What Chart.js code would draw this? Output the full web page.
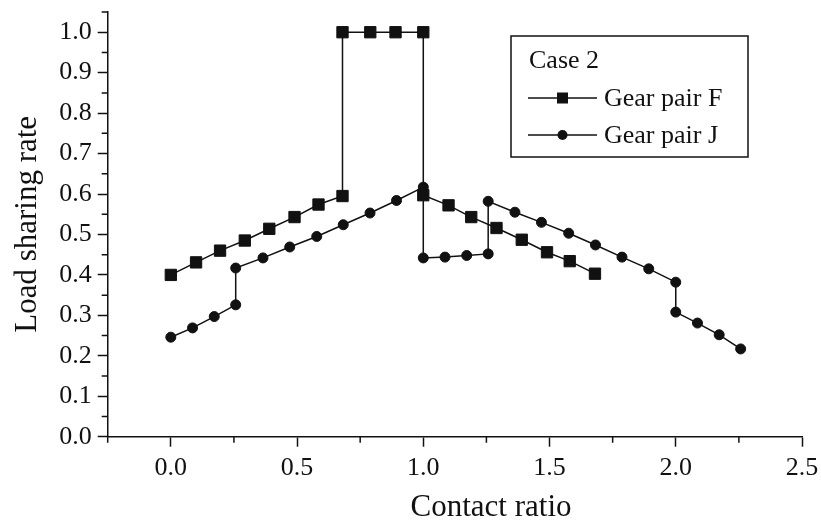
<!DOCTYPE html>
<html>
<head>
<meta charset="utf-8">
<script src="https://cdn.jsdelivr.net/npm/chart.js@4.4.1/dist/chart.umd.min.js"></script>
<style>
  body { margin: 0; background: #fff; }
  canvas { display: block; }
</style>
</head>
<body>
<canvas id="lsr" width="821" height="521"></canvas>
<script>
// gear pair F (squares)
const fX = [0, 0.1, 0.195, 0.293, 0.39, 0.49, 0.585, 0.68, 0.68, 0.79, 0.89, 1.0,
            1.0, 1.1, 1.19, 1.29, 1.39, 1.49, 1.58, 1.68];
const fY = [0.40, 0.431, 0.46, 0.485, 0.514, 0.543, 0.574, 0.595, 1.0, 1.0, 1.0, 1.0,
            0.597, 0.572, 0.543, 0.516, 0.487, 0.456, 0.434, 0.403];

// gear pair J (circles)
const jX = [0, 0.086, 0.172, 0.257, 0.257, 0.365, 0.471, 0.578, 0.683, 0.789, 0.894, 1.0,
            1.0, 1.086, 1.172, 1.257, 1.257, 1.363, 1.468, 1.576, 1.682, 1.787, 1.893, 2.0,
            2.0, 2.086, 2.172, 2.257];
const jY = [0.246, 0.269, 0.297, 0.326, 0.417, 0.442, 0.469, 0.495, 0.524, 0.553, 0.584, 0.617,
            0.442, 0.444, 0.448, 0.452, 0.582, 0.555, 0.530, 0.503, 0.474, 0.444, 0.415, 0.382,
            0.308, 0.281, 0.252, 0.217];

const xTicks = [0, 0.5, 1.0, 1.5, 2.0, 2.5];
const xMinor = [-0.25, 0.25, 0.75, 1.25, 1.75, 2.25];
const yTicks = [0, 0.1, 0.2, 0.3, 0.4, 0.5, 0.6, 0.7, 0.8, 0.9, 1.0];
const yMinor = [0.05, 0.15, 0.25, 0.35, 0.45, 0.55, 0.65, 0.75, 0.85, 0.95, 1.05];

const seriesNames = ["Gear pair F", "Gear pair J"];
const legendTitle = "Case 2";
const xTitle = "Contact ratio";
const yTitle = "Load sharing rate";

const ink = "#111";
const serif = '"Liberation Serif", "DejaVu Serif", serif';

const toPoints = (xs, ys) => xs.map((x, i) => ({ x: x, y: ys[i] }));

// short ticks between the labelled ones
const minorTicks = {
  id: "minorTicks",
  afterDraw(chart) {
    const ctx = chart.ctx;
    const xs = chart.scales.x, ys = chart.scales.y;
    ctx.save();
    ctx.strokeStyle = ink;
    ctx.lineWidth = 1.5;
    ctx.beginPath();
    xMinor.forEach(v => {
      const px = xs.getPixelForValue(v);
      ctx.moveTo(px, xs.top);
      ctx.lineTo(px, xs.top + 6);
    });
    yMinor.forEach(v => {
      const py = ys.getPixelForValue(v);
      ctx.moveTo(ys.right, py);
      ctx.lineTo(ys.right - 6, py);
    });
    ctx.stroke();

    // x title sits a bit right of the axis centre in the original
    ctx.fillStyle = ink;
    ctx.font = "31px " + serif;
    ctx.textAlign = "center";
    ctx.textBaseline = "alphabetic";
    ctx.fillText(xTitle, 491, 516);
    ctx.restore();
  }
};

// boxed legend with a heading, like the original figure
const boxLegend = {
  id: "boxLegend",
  afterDraw(chart) {
    const ctx = chart.ctx;
    ctx.save();
    ctx.strokeStyle = ink;
    ctx.fillStyle = ink;
    ctx.lineWidth = 1.5;
    ctx.strokeRect(511, 36, 237, 121);

    ctx.font = "26px " + serif;
    ctx.textBaseline = "middle";
    ctx.textAlign = "left";
    ctx.fillText(legendTitle, 529, 61);

    const rows = [98, 135];
    rows.forEach((y, i) => {
      ctx.beginPath();
      ctx.moveTo(528, y);
      ctx.lineTo(597, y);
      ctx.stroke();
      if (i === 0) {
        ctx.fillRect(557, y - 5.5, 11, 11);
      } else {
        ctx.beginPath();
        ctx.arc(562.5, y, 5, 0, Math.PI * 2);
        ctx.fill();
      }
      ctx.fillText(seriesNames[i], 604, y + 1);
    });
    ctx.restore();
  }
};

new Chart(document.getElementById("lsr"), {
  type: "scatter",
  data: {
    datasets: [
      {
        label: seriesNames[0],
        data: toPoints(fX, fY),
        showLine: true,
        borderColor: ink,
        backgroundColor: ink,
        borderWidth: 1.5,
        pointStyle: "rect",
        pointRadius: 8,
        pointBorderWidth: 1,
        clip: false
      },
      {
        label: seriesNames[1],
        data: toPoints(jX, jY),
        showLine: true,
        borderColor: ink,
        backgroundColor: ink,
        borderWidth: 1.5,
        pointStyle: "circle",
        pointRadius: 5,
        pointBorderWidth: 1,
        clip: false
      }
    ]
  },
  options: {
    responsive: false,
    animation: false,
    layout: { padding: { top: 12, right: 19, left: 0, bottom: 0 } },
    plugins: {
      legend: { display: false },
      tooltip: { enabled: false }
    },
    scales: {
      x: {
        type: "linear",
        min: -0.25,
        max: 2.5,
        afterBuildTicks: s => { s.ticks = xTicks.map(v => ({ value: v })); },
        afterFit: s => { s.height = 84.3; s.paddingLeft = 0; s.paddingRight = 0; },
        grid: { drawOnChartArea: false, tickLength: 10, tickColor: ink, tickWidth: 1.5 },
        border: { display: true, color: ink, width: 1.5 },
        ticks: {
          color: ink,
          padding: 6,
          maxRotation: 0,
          font: { family: serif, size: 26 },
          callback: v => Number(v).toFixed(1)
        }
      },
      y: {
        type: "linear",
        min: 0,
        max: 1.05,
        afterBuildTicks: s => { s.ticks = yTicks.map(v => ({ value: v })); },
        afterFit: s => { s.width = 107.7; s.paddingTop = 0; s.paddingBottom = 0; },
        grid: { drawOnChartArea: false, tickLength: 10, tickColor: ink, tickWidth: 1.5 },
        border: { display: true, color: ink, width: 1.5 },
        ticks: {
          color: ink,
          padding: 6,
          font: { family: serif, size: 26 },
          callback: v => Number(v).toFixed(1)
        },
        title: {
          display: true,
          text: yTitle,
          color: ink,
          font: { family: serif, size: 31 },
          padding: { top: 9, bottom: 0 }
        }
      }
    }
  },
  plugins: [minorTicks, boxLegend]
});
</script>
</body>
</html>
